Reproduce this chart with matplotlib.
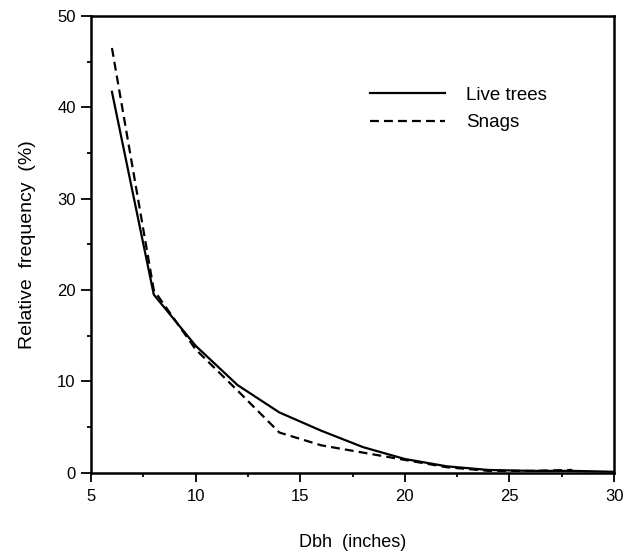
import matplotlib
matplotlib.use("Agg")
import matplotlib.pyplot as plt
from matplotlib.ticker import MultipleLocator

plt.rcParams['font.family'] = ['Liberation Sans', 'DejaVu Sans']

dbh = [6, 8, 10, 12, 14, 16, 18, 20, 22, 24, 26, 28, 30]
live = [41.7, 19.5, 13.9, 9.6, 6.6, 4.6, 2.8, 1.5, 0.7, 0.3, 0.2, 0.2, 0.1]
dbh_snags = [6, 8, 10, 12, 14, 16, 18, 20, 22, 24, 26, 28]
snags = [46.5, 20.0, 13.5, 9.0, 4.4, 3.0, 2.2, 1.4, 0.6, 0.2, 0.2, 0.3]

fig = plt.figure(figsize=(6.26, 5.53), dpi=100)
ax = fig.add_axes([0.1454, 0.1452, 0.981 - 0.1454, 0.971 - 0.1452])

ax.plot(dbh, live, color='black', lw=1.6, label='Live trees')
ax.plot(dbh_snags, snags, color='black', lw=1.6, dashes=(4, 2.3), label='Snags')

ax.set_xlim(5, 30)
ax.set_ylim(0, 50)
ax.xaxis.set_major_locator(MultipleLocator(5))
ax.xaxis.set_minor_locator(MultipleLocator(2.5))
ax.yaxis.set_major_locator(MultipleLocator(10))
ax.yaxis.set_minor_locator(MultipleLocator(5))
ax.tick_params(axis='x', which='major', direction='out', length=6.5, width=1.3, labelsize=12, pad=5)
ax.tick_params(axis='x', which='minor', direction='out', length=3, width=1.3)
ax.tick_params(axis='y', which='major', direction='out', length=7, width=1.3, labelsize=12, pad=4)
ax.tick_params(axis='y', which='minor', direction='out', length=3, width=1.3)
for s in ax.spines.values():
    s.set_linewidth(1.8)

ax.set_xlabel('Dbh  (inches)', fontsize=13, labelpad=22)
ax.set_ylabel('Relative  frequency  (%)', fontsize=14, labelpad=15)

ax.legend(loc='upper left', bbox_to_anchor=(0.533, 0.845), frameon=False, fontsize=13.5,
          handlelength=4.0, handletextpad=1.15, labelspacing=0.55, borderpad=0, borderaxespad=0)

fig.savefig('out.png', dpi=100)
